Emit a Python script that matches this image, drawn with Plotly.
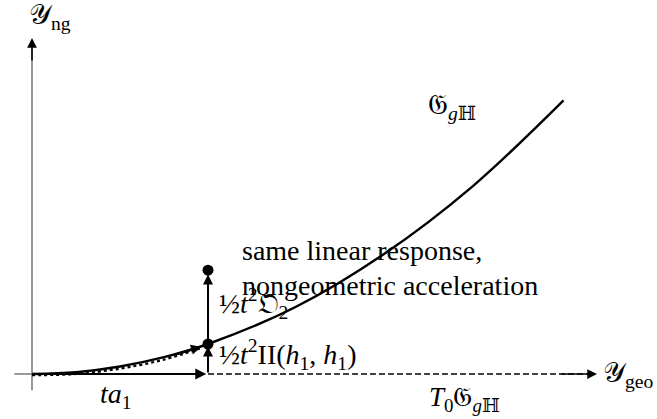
import plotly.graph_objects as go

# ---- data (math units: ta1 = 1) ----
curve_x = [0.0, 0.25, 0.5, 0.75, 1.0, 1.5, 2.0, 2.5, 3.02]
curve_y = [0.0, 0.03, 0.125, 0.28, 0.5, 1.12, 2.0, 3.12, 4.56]
dotted_x = [0.0, 0.25, 0.5, 0.75, 0.97]
dotted_y = [-0.02, 0.0, 0.09, 0.24, 0.44]
point_x = [1.0, 1.0]
point_y = [0.5, 1.73]

FONT = "Liberation Serif, DejaVu Serif, serif"
BLACK = "#000"
GRAY = "#777"

fig = go.Figure()

# vertical axis (gray)
fig.add_trace(go.Scatter(x=[0, 0], y=[-0.27, 5.5], mode="lines",
                         line=dict(color=GRAY, width=1.5), hoverinfo="skip"))
# horizontal axis left stub
fig.add_trace(go.Scatter(x=[-0.1, 0], y=[0, 0], mode="lines",
                         line=dict(color=GRAY, width=1.5), hoverinfo="skip"))
# dashed tangent space
fig.add_trace(go.Scatter(x=[1.0, 3.17], y=[0, 0], mode="lines",
                         line=dict(color="#444", width=1.8, dash="6px,3px"), hoverinfo="skip"))
# dotted path
fig.add_trace(go.Scatter(x=dotted_x, y=dotted_y, mode="lines", line_shape="spline",
                         line=dict(color=BLACK, width=2.2, dash="dot"), hoverinfo="skip"))
# the curve
fig.add_trace(go.Scatter(x=curve_x, y=curve_y, mode="lines", line_shape="spline",
                         line=dict(color=BLACK, width=2.4), hoverinfo="skip"))
# points
fig.add_trace(go.Scatter(x=point_x, y=point_y, mode="markers",
                         marker=dict(color=BLACK, size=11), hoverinfo="skip"))

def arrow(x0, y0, x1, y1, width=2, color=BLACK, size=1.0):
    fig.add_annotation(x=x1, y=y1, ax=x0, ay=y0, xref="x", yref="y", axref="x", ayref="y",
                       showarrow=True, arrowhead=2, arrowsize=size, arrowwidth=width,
                       arrowcolor=color, text="")

# axis arrowheads
arrow(3.0, 0, 3.21, 0, width=1.5, size=1.3)
arrow(0, 5.2, 0, 5.6, width=1.5, size=1.3)
# ta1 arrow
arrow(0, 0, 0.99, 0, width=2.2, size=1.0)
# vertical arrows
arrow(1.0, 0.0, 1.0, 0.46, width=2, size=1.0)
arrow(1.0, 0.5, 1.0, 1.66, width=2, size=1.0)
# arrow along curve into point
arrow(0.8, 0.31, 0.96, 0.455, width=2, size=1.0)

def label(x, y, text, size=28, anchor="left"):
    fig.add_annotation(x=x, y=y, xref="x", yref="y", text=text, showarrow=False,
                       xanchor=anchor, yanchor="middle",
                       font=dict(family=FONT, size=size, color=BLACK))

label(-0.03, 5.95, "𝒴<sub>ng</sub>", size=28)
label(2.24, 4.45, "𝔊<sub><i>g</i>ℍ</sub>", size=28)
label(1.18, 2.05, "same linear response,")
label(1.18, 1.47, "nongeometric acceleration")
label(1.05, 1.18, "½<i>t</i><sup>2</sup>𝔒<sub>2</sub>")
label(1.05, 0.32, "½<i>t</i><sup>2</sup>II(<i>h</i><sub>1</sub>, <i>h</i><sub>1</sub>)")
label(0.48, -0.36, "<i>ta</i><sub>1</sub>", anchor="center")
label(2.46, -0.42, "<i>T</i><sub>0</sub>𝔊<sub><i>g</i>ℍ</sub>", anchor="center", size=27)
label(3.23, 0.0, "𝒴<sub>geo</sub>", size=28)

fig.update_layout(
    width=657, height=419, margin=dict(l=0, r=0, t=0, b=0),
    paper_bgcolor="white", plot_bgcolor="white", showlegend=False,
    xaxis=dict(range=[-0.1818, 3.551], visible=False, fixedrange=True),
    yaxis=dict(range=[-0.75, 6.233], visible=False, fixedrange=True),
)
fig.write_html("out.html")
